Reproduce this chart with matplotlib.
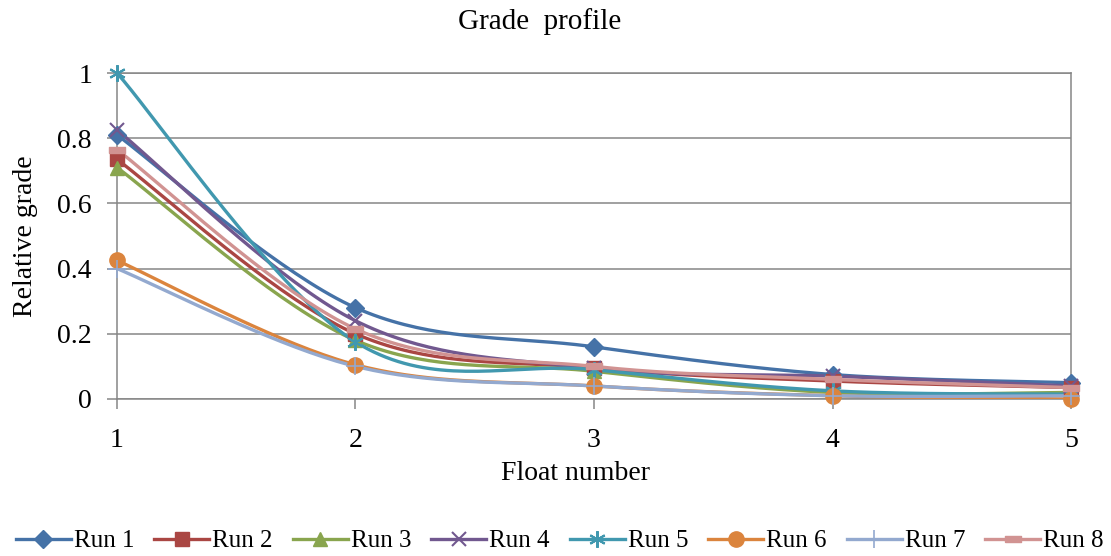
import numpy as np
import matplotlib
matplotlib.use("Agg")
import matplotlib.pyplot as plt
from matplotlib.lines import Line2D

# Float numbers and relative grade per run
floats = [1, 2, 3, 4, 5]
run1 = [0.81, 0.28, 0.16, 0.075, 0.05]
run2 = [0.735, 0.20, 0.095, 0.055, 0.035]
run3 = [0.71, 0.18, 0.085, 0.02, 0.02]
run4 = [0.825, 0.24, 0.095, 0.07, 0.04]
run5 = [1.0, 0.175, 0.09, 0.025, 0.015]
run6 = [0.425, 0.105, 0.04, 0.01, 0.0]
run7 = [0.40, 0.10, 0.04, 0.01, 0.01]
run8 = [0.765, 0.215, 0.10, 0.06, 0.035]
labels = ["Run 1", "Run 2", "Run 3", "Run 4", "Run 5", "Run 6", "Run 7", "Run 8"]
series = [run1, run2, run3, run4, run5, run6, run7, run8]
yticks = [0, 0.2, 0.4, 0.6, 0.8, 1.0]
ytick_labels = ["0", "0.2", "0.4", "0.6", "0.8", "1"]

colors = ["#4572A7", "#AA4643", "#89A54E", "#71588F", "#4198AF",
          "#DB843D", "#93A9CF", "#D19392"]

asterisk = (6, 2, 0)
dash = [(-1, -0.35), (1, -0.35), (1, 0.35), (-1, 0.35), (-1, -0.35)]
markers = ["D", "s", "^", "x", asterisk, "o", "+", dash]
msizes = [9, 10, 10, 10, 12, 11, 13, 11]
mews = [1, 1, 1, 1.5, 1.5, 1, 1.2, 1]


def smooth(xs, ys, n=40):
    """Cubic Bezier smoothing through every point (Catmull-Rom style)."""
    P = np.column_stack([xs, ys]).astype(float)
    ext = np.vstack([P[0], P, P[-1]])
    out = []
    t = np.linspace(0, 1, n)[:, None]
    for i in range(len(P) - 1):
        p0 = ext[i + 1]
        p3 = ext[i + 2]
        b1 = p0 + (ext[i + 2] - ext[i]) / 6.0
        b2 = p3 - (ext[i + 3] - ext[i + 1]) / 6.0
        seg = ((1 - t) ** 3) * p0 + 3 * ((1 - t) ** 2) * t * b1 \
            + 3 * (1 - t) * t ** 2 * b2 + t ** 3 * p3
        out.append(seg if i == 0 else seg[1:])
    out = np.vstack(out)
    return out[:, 0], out[:, 1]


plt.rcParams["font.family"] = ["Liberation Serif", "DejaVu Serif"]
FS = 20

fig = plt.figure(figsize=(11.11, 5.56), dpi=100)
ax = fig.add_axes([0.1053, 0.2824, 0.8587, 0.5863])

handles = []
for ys, lab, c, m, ms, mew in zip(series, labels, colors, markers, msizes, mews):
    sx, sy = smooth(floats, ys)
    ax.plot(sx, sy, color=c, lw=2.4, solid_capstyle="round", zorder=3)
    ax.plot(floats, ys, linestyle="none", marker=m, markersize=ms,
            color=c, markeredgecolor=c, markeredgewidth=mew, zorder=4,
            clip_on=False)
    handles.append(Line2D([0], [0], color=c, lw=2.4, marker=m, markersize=ms,
                          markeredgecolor=c, markeredgewidth=mew))

ax.set_xlim(1, 5)
ax.set_ylim(0, 1)
ax.set_xticks(floats)
ax.set_yticks(yticks)
ax.set_yticklabels(ytick_labels)
ax.grid(axis="y", color="#868686", lw=1.1)
ax.set_axisbelow(True)
for sp in ax.spines.values():
    sp.set_color("#868686")
    sp.set_linewidth(1.1)
ax.tick_params(axis="both", direction="out", length=7, width=1.1,
               color="#868686", labelsize=FS)
ax.tick_params(axis="y", pad=11)
ax.tick_params(axis="x", pad=14)

ax.set_ylabel("Relative grade", fontsize=FS, va="center")
ax.yaxis.set_label_coords(-0.096, 0.5)
fig.text(0.518, 1 - 474 / 556, "Float number", fontsize=FS,
         ha="center", va="center")
fig.text(0.486, 1 - 22 / 556, "Grade  profile", fontsize=21,
         ha="center", va="center")

fig.legend(handles, labels, loc="center", bbox_to_anchor=(0.504, 1 - 541 / 556),
           ncol=8, frameon=False, fontsize=18, handlelength=2.2,
           handletextpad=0.12, columnspacing=0.8, borderpad=0)

fig.savefig("out.png", dpi=100)
